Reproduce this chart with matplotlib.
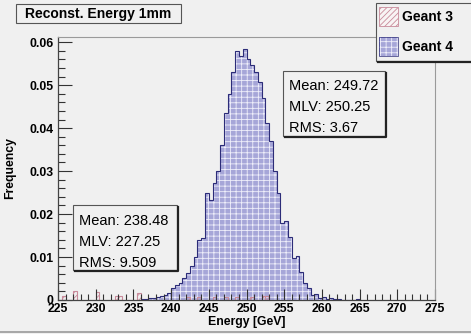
import numpy as np
import matplotlib
matplotlib.use("Agg")
import matplotlib.pyplot as plt
from matplotlib.patches import Rectangle
from matplotlib.lines import Line2D
from matplotlib.ticker import MultipleLocator

plt.rcParams['font.family'] = ['Liberation Sans', 'DejaVu Sans']
plt.rcParams['hatch.linewidth'] = 0.6

# --- data (frequency per 0.5 GeV bin) ---
bin_w = 0.5
g4_start = 236.0
g4_vals = [0.0003, 0.0002, 0.0005, 0.0004, 0.0007, 0.0010, 0.0012, 0.0017,
           0.0028, 0.0035, 0.0040, 0.0052, 0.0062, 0.0078, 0.0100, 0.0140,
           0.0145, 0.0250, 0.0232, 0.0272, 0.0300, 0.0360, 0.0435, 0.0480,
           0.0530, 0.0580, 0.0568, 0.0585, 0.0560, 0.0547, 0.0530, 0.0507,
           0.0470, 0.0412, 0.0370, 0.0300, 0.0250, 0.0180, 0.0184, 0.0147,
           0.0098, 0.0102, 0.0065, 0.0040, 0.0028, 0.0012, 0.0013, 0.0005,
           0.0007, 0.0003, 0.0004, 0.0002, 0.0003, 0.0, 0.0, 0.0,
           0.0, 0.0003]

g3_left = [225.5, 227.0, 230.0, 232.5, 233.0, 235.5, 242.0, 243.5,
           245.5, 247.0, 248.5, 250.5, 252.0, 252.5]
g3_vals = [0.0009, 0.0021, 0.0019, 0.0009, 0.0009, 0.0016, 0.0008, 0.0008,
           0.0008, 0.0008, 0.0008, 0.0008, 0.0009, 0.0009]

stats_g4 = ["Mean: 249.72", "MLV: 250.25", "RMS: 3.67"]
stats_g3 = ["Mean: 238.48", "MLV: 227.25", "RMS: 9.509"]

W, H = 471, 334
bg = '#f0f0f0'
blue_fill = '#a6a6d8'
blue_edge = '#2c2c78'
pink = '#c88a9a'


def fx(x):
    return x / W


def fy(y):
    return 1 - y / H


fig = plt.figure(figsize=(W / 100, H / 100), dpi=100, facecolor=bg)
ax = fig.add_axes([fx(58), fy(300), (435 - 58) / W, (300 - 37) / H])
ax.set_facecolor(bg)

edges = g4_start + bin_w * np.arange(len(g4_vals) + 1)
ax.bar(edges[:-1], g4_vals, width=bin_w, align='edge', color=blue_fill,
       edgecolor='#eeeefa', linewidth=0, hatch='+++')
ax.stairs(g4_vals, edges, color=blue_edge, lw=0.8)

ax.bar(g3_left, g3_vals, width=bin_w, align='edge', color='none',
       edgecolor=pink, linewidth=0.8, hatch='//////')

ax.set_xlim(225, 275)
ax.set_ylim(0, 0.0612)
ax.xaxis.set_major_locator(MultipleLocator(5))
ax.xaxis.set_minor_locator(MultipleLocator(1))
ax.yaxis.set_major_locator(MultipleLocator(0.01))
ax.yaxis.set_minor_locator(MultipleLocator(0.002))
ax.set_yticks([0, 0.01, 0.02, 0.03, 0.04, 0.05, 0.06])
ax.set_yticklabels(['0', '0.01', '0.02', '0.03', '0.04', '0.05', '0.06'])

ax.tick_params(axis='both', which='both', direction='in', colors='#333333',
               labelcolor='black', labelsize=8.8)
ax.tick_params(axis='y', which='major', length=10, width=0.8, pad=3)
ax.tick_params(axis='y', which='minor', length=5, width=0.8)
ax.tick_params(axis='x', which='major', length=8, width=0.8, pad=2)
ax.tick_params(axis='x', which='minor', length=4, width=0.8)
for lab in ax.get_xticklabels() + ax.get_yticklabels():
    lab.set_fontweight('bold')

for s in ['left', 'bottom']:
    ax.spines[s].set_color('#444444')
    ax.spines[s].set_linewidth(0.9)
for s in ['top', 'right']:
    ax.spines[s].set_color('#9a9a9a')
    ax.spines[s].set_linewidth(0.8)

fig.text(fx(246.5), fy(322), 'Energy [GeV]', ha='center', va='center',
         fontsize=8.8, fontweight='bold')
fig.text(fx(10), fy(168), 'Frequency', ha='center', va='center',
         rotation=90, fontsize=8.8, fontweight='bold')


def pave(x0, y0, x1, y1, shadow=True):
    r = Rectangle((fx(x0), fy(y1)), fx(x1 - x0), (y1 - y0) / H,
                  transform=fig.transFigure, facecolor=bg,
                  edgecolor='#555555', lw=0.8, zorder=5)
    fig.add_artist(r)
    if shadow:
        fig.add_artist(Line2D([fx(x0 + 2), fx(x1 + 1), fx(x1 + 1)],
                              [fy(y1 + 1), fy(y1 + 1), fy(y0 + 2)],
                              transform=fig.transFigure, color='#222222',
                              lw=1.6, zorder=6))


# title
pave(16, 4, 181, 23, shadow=False)
fig.text(fx(98.5), fy(14), 'Reconst. Energy 1mm', ha='center', va='center',
         fontsize=10, fontweight='bold', zorder=7)

# stats boxes
pave(283, 71, 385, 136)
for i, t in enumerate(stats_g4):
    fig.text(fx(289), fy(86 + 21 * i), t, ha='left', va='center',
             fontsize=10.5, zorder=7)
pave(73, 205, 177, 270)
for i, t in enumerate(stats_g3):
    fig.text(fx(79), fy(221 + 21 * i), t, ha='left', va='center',
             fontsize=10.5, zorder=7)

# legend
pave(376, 3, 475, 61)
fig.add_artist(Rectangle((fx(379), fy(26)), fx(19), 19 / H,
                         transform=fig.transFigure, facecolor='#f8f4f4',
                         edgecolor=pink, lw=0.6, hatch='//////', zorder=7))
fig.add_artist(Rectangle((fx(379), fy(56)), fx(19), 19 / H,
                         transform=fig.transFigure, facecolor=blue_fill,
                         edgecolor='#eeeefa', lw=0, hatch='+++', zorder=7))
fig.add_artist(Rectangle((fx(379), fy(56)), fx(19), 19 / H,
                         transform=fig.transFigure, facecolor='none',
                         edgecolor=blue_edge, lw=0.5, zorder=8))
fig.text(fx(402), fy(17), 'Geant 3', ha='left', va='center', fontsize=10,
         fontweight='bold', zorder=8)
fig.text(fx(402), fy(47), 'Geant 4', ha='left', va='center', fontsize=10,
         fontweight='bold', zorder=8)

fig.add_artist(Line2D([0, 1], [fy(332), fy(332)], transform=fig.transFigure,
                      color='#9a9a9a', lw=1.2))

fig.savefig('out.png', dpi=100, facecolor=bg)
